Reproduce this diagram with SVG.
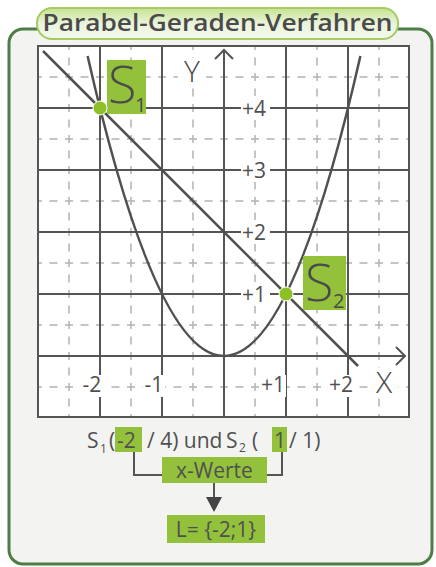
<svg xmlns="http://www.w3.org/2000/svg" width="436" height="567" viewBox="0 0 436 567">
<defs>
<linearGradient id="pill" x1="0" y1="0" x2="0" y2="1">
<stop offset="0" stop-color="#c6e290"/>
<stop offset="0.5" stop-color="#eaf4da"/>
<stop offset="1" stop-color="#f4f8ee"/>
</linearGradient>
<style>
.grid{stroke:#555;stroke-width:2;fill:none}
.dash{stroke:#b3b3b3;stroke-width:1.5;stroke-dasharray:8 7.5;stroke-dashoffset:4;fill:none}
.curve{stroke:#505050;stroke-width:2.5;fill:none}
.lbl{font-family:"Open Sans","Noto Sans",sans-serif;font-size:21px;fill:#505050}
.sub{font-family:"Open Sans","Noto Sans",sans-serif;font-size:12px;fill:#505050}
.big{font-family:"Open Sans","Noto Sans",sans-serif;fill:#4a4a4a}
.gbox{fill:#93c13c}
.conn{stroke:#555;stroke-width:2;fill:none}
.wbg{fill:#ffffff}
</style>
</defs>
<g id="panel">
<rect x="9" y="29" width="423" height="535" rx="14" fill="#f3f3f2" stroke="#4e7d46" stroke-width="3"/>
</g>
<g id="title">
<rect x="37" y="8" width="361" height="31" rx="15" fill="url(#pill)" stroke="#a5cb62" stroke-width="2"/>
<text x="217.5" y="31" text-anchor="middle" class="big" font-size="24" font-weight="600" textLength="350" lengthAdjust="spacingAndGlyphs">Parabel-Geraden-Verfahren</text>
</g>
<g id="graph">
<rect x="38" y="46" width="371" height="371" fill="#ffffff"/>
<g id="dashed-grid">
<path class="dash" d="M69,46V417M131,46V417M193,46V417M255,46V417M317,46V417M379,46V417"/>
<path class="dash" d="M38,77H409M38,139H409M38,201H409M38,263H409M38,325H409M38,387H409"/>
</g>
<g id="solid-grid">
<path class="grid" d="M100,46V417M162,46V417M286,46V417M348,46V417"/>
<path class="grid" d="M38,108H409M38,170H409M38,232H409M38,294H409"/>
<rect x="38" y="46" width="371" height="371" class="grid"/>
</g>
<g id="axes">
<path class="grid" d="M224,417V50M215,59L224,50L233,59"/>
<path class="grid" d="M38,356H405M396,347L405,356L396,365"/>
<path class="grid" d="M213,108H240M213,170H240M213,232H240M213,294H240"/>
<path class="grid" d="M100,346V366M162,346V366M286,346V366M348,346V366"/>
</g>
<g id="tick-labels">
<rect class="wbg" x="241" y="96" width="29" height="24"/>
<rect class="wbg" x="241" y="158" width="29" height="24"/>
<rect class="wbg" x="241" y="220" width="29" height="24"/>
<rect class="wbg" x="241" y="282" width="29" height="24"/>
<text class="lbl" x="242" y="116">+4</text>
<text class="lbl" x="242" y="178">+3</text>
<text class="lbl" x="242" y="240">+2</text>
<text class="lbl" x="242" y="302">+1</text>
<rect class="wbg" x="80" y="375" width="25" height="22"/>
<rect class="wbg" x="143" y="375" width="22" height="22"/>
<rect class="wbg" x="260" y="375" width="26" height="22"/>
<rect class="wbg" x="327" y="375" width="28" height="22"/>
<rect class="wbg" x="368" y="368" width="30" height="28"/>
<text class="lbl" x="92" y="392" text-anchor="middle">-2</text>
<text class="lbl" x="154" y="392" text-anchor="middle">-1</text>
<text class="lbl" x="273" y="392" text-anchor="middle">+1</text>
<text class="lbl" x="341" y="392" text-anchor="middle">+2</text>
<text class="big" x="384" y="393" text-anchor="middle" font-size="30" font-weight="300">X</text>
<rect class="wbg" x="178" y="58" width="28" height="26"/>
<text class="big" x="192" y="82" text-anchor="middle" font-size="30" font-weight="300">Y</text>
</g>
<g id="curves">
<path class="curve" d="M87.6,56Q224,656 360.4,56"/>
<path class="curve" d="M43,51L358,366"/>
</g>
</g>
<g id="S1">
<rect class="gbox" x="107" y="60" width="39" height="54"/>
<text class="big" x="108" y="103" font-size="52" font-weight="300">S</text>
<text class="big" x="135" y="112" font-size="20">1</text>
<circle cx="100" cy="108" r="7" fill="#8cc026" stroke="#ffffff" stroke-width="1"/>
</g>
<g id="S2">
<rect class="gbox" x="303" y="256" width="43" height="54"/>
<text class="big" x="305" y="301" font-size="52" font-weight="300">S</text>
<text class="big" x="333" y="308" font-size="20">2</text>
<circle cx="286" cy="294" r="7" fill="#8cc026" stroke="#ffffff" stroke-width="1"/>
</g>
<g id="solution-text">
<rect class="gbox" x="115" y="427" width="27" height="25"/>
<rect class="gbox" x="272" y="427" width="15" height="25"/>
<text class="lbl" x="87" y="448">S</text>
<text class="sub" x="100" y="453">1</text>
<text class="lbl" x="109" y="448">(</text>
<text class="lbl" x="117" y="448">-2</text>
<text class="lbl" x="147" y="448">/ 4) und</text>
<text class="lbl" x="226" y="448">S</text>
<text class="sub" x="239" y="452">2</text>
<text class="lbl" x="252" y="448">(</text>
<text class="lbl" x="274" y="448">1</text>
<text class="lbl" x="289" y="448">/ 1)</text>
</g>
<g id="connectors">
<path class="conn" d="M134,452V475H162"/>
<path class="conn" d="M267,475H282V452"/>
<path class="conn" d="M214,483V500"/>
<polygon points="206,497 222,497 214,512" fill="#444"/>
</g>
<g id="x-werte">
<rect class="gbox" x="162" y="457" width="105" height="26"/>
<text class="lbl" x="214.5" y="478" text-anchor="middle">x-Werte</text>
</g>
<g id="loesung">
<rect class="gbox" x="167" y="515" width="98" height="28"/>
<text class="lbl" x="216" y="537" text-anchor="middle">L= {-2;1}</text>
</g>
</svg>
